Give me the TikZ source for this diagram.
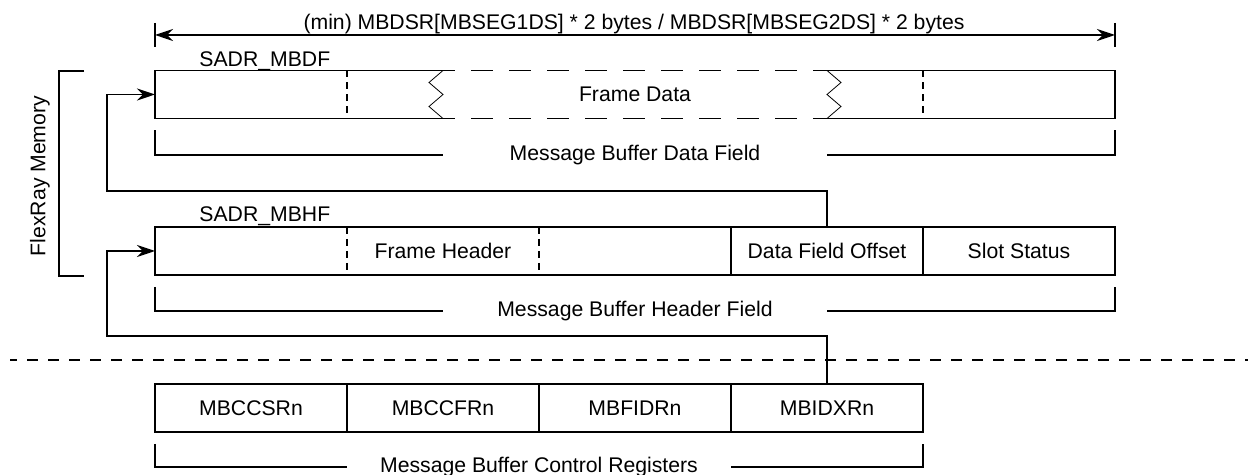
\documentclass[tikz,border=0pt]{standalone}
\usepackage{fontspec}
\setmainfont{Liberation Sans}
\usetikzlibrary{arrows.meta,positioning}

\begin{document}
\begin{tikzpicture}[x=0.5pt, y=-0.5pt, line width=0.8pt, every node/.style={font=\fontsize{10.6}{12}\selectfont}, >={Stealth[length=9pt, width=6pt]},
	cell/.style={minimum width=96pt, minimum height=24pt, inner sep=0pt, outer sep=0pt},
	regcell/.style={cell, draw},
	brlabel/.style={minimum width=192pt, inner sep=0pt, outer sep=0pt},
	longdash/.style={dash pattern=on 11pt off 8pt, dash phase=5pt},
	sepdash/.style={dash pattern=on 5.5pt off 5pt, dash phase=2pt},
	shortdash/.style={dash pattern=on 3.5pt off 2.5pt}]
	\useasboundingbox (0,0) rectangle (1248,475);
	\coordinate (dimL) at (155,35);
	\coordinate (dimR) at (1115,35);
	\draw[<->] (dimL) -- (dimR);
	\draw (dimL) ++(0,-12) -- ++(0,24);
	\draw (dimR) ++(0,-12) -- ++(0,24);
	\node[anchor=base] (dimlab) at (634,30) {(min) MBDSR[MBSEG1DS] * 2 bytes / MBDSR[MBSEG2DS] * 2 bytes};
	\node[anchor=base west] (mbdfadr) at (192,67) {SADR\_MBDF};
	\node[cell] (d1) at (251,94.5) {};
	\node[cell, right=0pt of d1] (d2) {};
	\node[cell, right=0pt of d2] (d3) {Frame Data};
	\node[cell, right=0pt of d3] (d4) {};
	\node[cell, right=0pt of d4] (d5) {};
	\draw (d2.north) -- (d1.north west) -- (d1.south west) -- (d2.south);
	\draw (d4.north) -- (d5.north east) -- (d5.south east) -- (d4.south);
	\draw[longdash] (d2.north) -- (d4.north) (d2.south) -- (d4.south);
	\draw[line width=0.4pt] (d2.north) -- ++(-14,12) -- ++(14,12) -- ++(-14,12) -- (d2.south);
	\draw[line width=0.4pt] (d4.north) -- ++(14,12) -- ++(-14,12) -- ++(14,12) -- (d4.south);
	\draw[shortdash] (d1.north east) -- (d1.south east) (d4.north east) -- (d4.south east);
	\node[brlabel] (dflab) at (635,155) {Message Buffer Data Field};
	\draw[shorten <=6pt] (d1.south west) |- (dflab.west);
	\draw[shorten >=6pt] (dflab.east) -| (d5.south east);
	\node[anchor=base west] (mbhfadr) at (192,222) {SADR\_MBHF};
	\node[cell] (h1) at (251,251) {};
	\node[cell, right=0pt of h1] (h2) {Frame Header};
	\node[cell, right=0pt of h2] (h3) {};
	\node[cell, right=0pt of h3] (h4) {Data Field Offset};
	\node[cell, right=0pt of h4] (h5) {Slot Status};
	\draw (h1.north west) rectangle (h5.south east);
	\draw[shortdash] (h1.north east) -- (h1.south east) (h2.north east) -- (h2.south east);
	\draw (h3.north east) -- (h3.south east) (h4.north east) -- (h4.south east);
	\node[brlabel] (hflab) at (635,311) {Message Buffer Header Field};
	\draw[shorten <=6pt] (h1.south west) |- (hflab.west);
	\draw[shorten >=6pt] (hflab.east) -| (h5.south east);
	\draw (84,71) -| (59,276) -- (84,276);
	\node[rotate=90] (memlab) at (40,176) {FlexRay Memory};
	\draw[sepdash] (10,360) -- (1248,360);
	\node[regcell] (c1) at (251,408) {MBCCSRn};
	\node[regcell, right=0pt of c1] (c2) {MBCCFRn};
	\node[regcell, right=0pt of c2] (c3) {MBFIDRn};
	\node[regcell, right=0pt of c3] (c4) {MBIDXRn};
	\node[brlabel] (crlab) at (539,467) {Message Buffer Control Registers};
	\draw[shorten <=6pt] (c1.south west) |- (crlab.west);
	\draw[shorten >=6pt] (crlab.east) -| (c4.south east);
	\coordinate (lnk1) at (107,191);
	\coordinate (lnk2) at (107,336);
	\draw[->] (h4.north) |- (lnk1) |- (d1.west);
	\draw[->] (c4.north) |- (lnk2) |- (h1.west);
\end{tikzpicture}
\end{document}
